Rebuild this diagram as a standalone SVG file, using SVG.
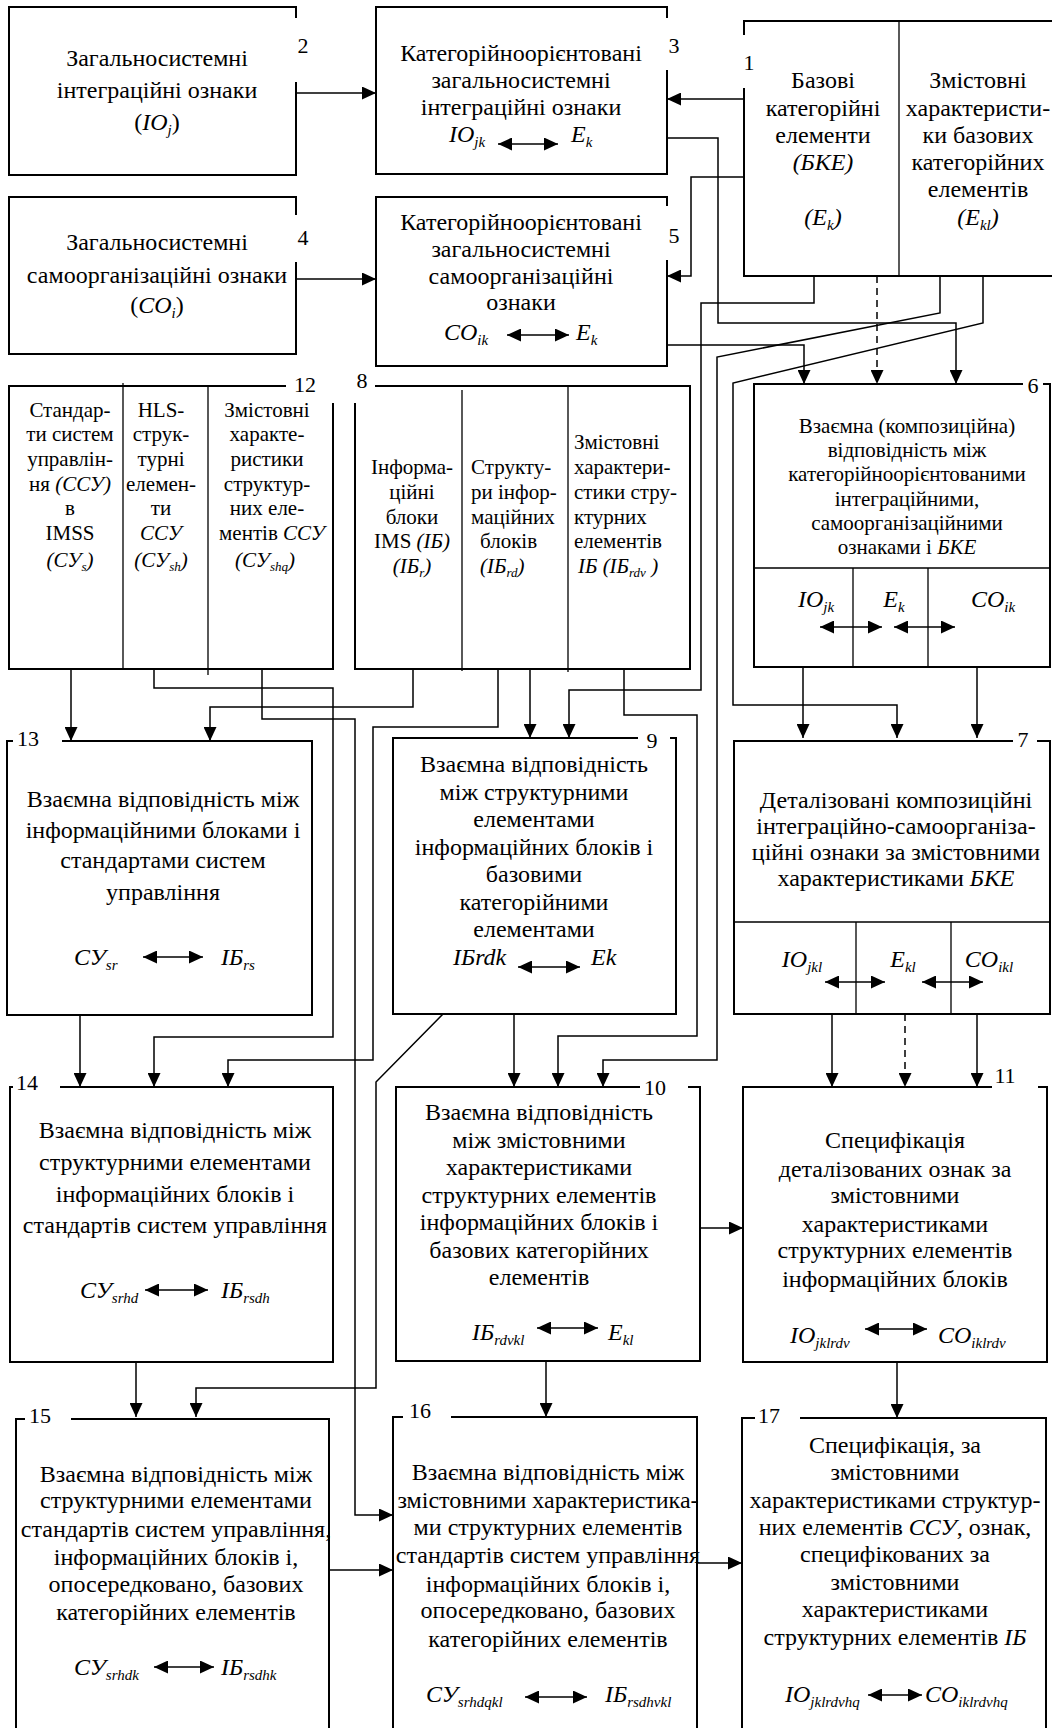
<svg xmlns="http://www.w3.org/2000/svg" width="1052" height="1728" viewBox="0 0 1052 1728">
<style>
text{font-family:"Liberation Serif","Times New Roman",serif;fill:#000}
.t{font-size:24px;text-anchor:middle}
.c{font-size:21px;text-anchor:middle}
.cs{font-size:21px}
.f{font-size:24px;font-style:italic}
.fm{font-size:24px;font-style:italic;text-anchor:middle}
.i{font-style:italic}
.sb{font-size:15px}
.csb{font-size:13px}
.lab{font-size:22px;text-anchor:middle}
.bx{fill:none;stroke:#000;stroke-width:2}
.dv{fill:none;stroke:#000;stroke-width:1.3}
.ln{fill:none;stroke:#000;stroke-width:1.5}
.ar{marker-end:url(#ah)}
.dsh{stroke-dasharray:7 5}
.bi{fill:none;stroke:#000;stroke-width:1.5;marker-start:url(#ahs);marker-end:url(#ah)}
</style>
<defs>
<marker id="ah" markerUnits="userSpaceOnUse" markerWidth="14" markerHeight="13" refX="14" refY="6.5" orient="auto"><path d="M0,0 L14,6.5 L0,13 z" fill="#000"/></marker>
<marker id="ahs" markerUnits="userSpaceOnUse" markerWidth="14" markerHeight="13" refX="14" refY="6.5" orient="auto-start-reverse"><path d="M0,0 L14,6.5 L0,13 z" fill="#000"/></marker>
</defs>

<g id="connectors">
<path class="ln ar" d="M296,93 H376"/>
<path class="ln ar" d="M296,279 H376"/>
<path class="ln ar" d="M744,99 H667"/>
<path class="ln ar" d="M744,177 H691 V276 H667"/>
<path class="ln ar" d="M667,138 H718 V323 H956 V384"/>
<path class="ln ar" d="M667,345 H804 V384"/>
<path class="ln ar dsh" d="M877,276 V384"/>
<path class="ln ar" d="M814,276 V303 H701 V690 H569 V738"/>
<path class="ln ar" d="M940,276 V313 L717,357 V1060 H603 V1087"/>
<path class="ln ar" d="M983,276 V323 L733,383 V705 H897 V738"/>
<path class="ln ar" d="M803,667 V738"/>
<path class="ln ar" d="M977,667 V738"/>
<path class="ln ar" d="M832,1014 V1087"/>
<path class="ln ar dsh" d="M905,1014 V1087"/>
<path class="ln ar" d="M977,1014 V1087"/>
<path class="ln ar" d="M71,669 V741"/>
<path class="ln ar" d="M413,669 V707 H210 V741"/>
<path class="ln ar" d="M154,669 V688 H333 V1037 H154 V1087"/>
<path class="ln ar" d="M262,669 V719 H355 V1515 H393"/>
<path class="ln ar" d="M498,669 V727 H373 V1060 H228 V1087"/>
<path class="ln ar" d="M530,669 V738"/>
<path class="ln ar" d="M624,669 V715 H697 V1036 H558 V1087"/>
<path class="ln ar" d="M80,1015 V1087"/>
<path class="ln ar" d="M514,1014 V1087"/>
<path class="ln ar" d="M443,1014 L376,1082 V1388 H196 V1417"/>
<path class="ln ar" d="M136,1362 V1417"/>
<path class="ln ar" d="M700,1228 H743"/>
<path class="ln ar" d="M546,1361 V1417"/>
<path class="ln ar" d="M897,1362 V1418"/>
<path class="ln ar" d="M329,1570 H393"/>
<path class="ln ar" d="M697,1563 H742"/>
</g>

<g id="n1">
<path class="bx" d="M744,35 V21 H1052 M744,88 V276 H1052"/>
<path class="dv" d="M899,21 V276"/>
<text class="lab" x="749" y="70">1</text>
<text class="t" x="823" y="88">Базові</text>
<text class="t" x="823" y="116">категорійні</text>
<text class="t" x="823" y="143">елементи</text>
<text class="t i" x="823" y="170">(БКЕ)</text>
<text class="t i" x="823" y="225">(E<tspan class="sb" dy="5">k</tspan><tspan dy="-5">)</tspan></text>
<text class="t" x="978" y="88">Змістовні</text>
<text class="t" x="978" y="116">характеристи-</text>
<text class="t" x="978" y="143">ки базових</text>
<text class="t" x="978" y="170">категорійних</text>
<text class="t" x="978" y="197">елементів</text>
<text class="t i" x="978" y="225">(E<tspan class="sb" dy="5">kl</tspan><tspan dy="-5">)</tspan></text>
</g>

<g id="n2">
<path class="bx" d="M296,18 V7 H9 V175 H296 V82"/>
<text class="lab" x="303" y="53">2</text>
<text class="t" x="157" y="66">Загальносистемні</text>
<text class="t" x="157" y="98">інтеграційні ознаки</text>
<text class="t" x="157" y="130">(<tspan class="i">IO<tspan class="sb" dy="5">j</tspan></tspan><tspan dy="-5">)</tspan></text>
</g>

<g id="n3">
<path class="bx" d="M667,18 V7 H376 V174 H667 V70"/>
<text class="lab" x="674" y="53">3</text>
<text class="t" x="521" y="61">Категорійноорієнтовані</text>
<text class="t" x="521" y="88">загальносистемні</text>
<text class="t" x="521" y="115">інтеграційні ознаки</text>
<text class="f" x="449" y="142">IO<tspan class="sb" dy="5">jk</tspan></text>
<path class="bi" d="M498,144 H558"/>
<text class="f" x="571" y="142">E<tspan class="sb" dy="5">k</tspan></text>
</g>

<g id="n4">
<path class="bx" d="M296,215 V197 H9 V354 H296 V262"/>
<text class="lab" x="303" y="245">4</text>
<text class="t" x="157" y="250">Загальносистемні</text>
<text class="t" x="157" y="283">самоорганізаційні ознаки</text>
<text class="t" x="157" y="313">(<tspan class="i">CO<tspan class="sb" dy="5">i</tspan></tspan><tspan dy="-5">)</tspan></text>
</g>

<g id="n5">
<path class="bx" d="M667,206 V197 H376 V366 H667 V260"/>
<text class="lab" x="674" y="243">5</text>
<text class="t" x="521" y="230">Категорійноорієнтовані</text>
<text class="t" x="521" y="257">загальносистемні</text>
<text class="t" x="521" y="284">самоорганізаційні</text>
<text class="t" x="521" y="310">ознаки</text>
<text class="f" x="444" y="340">CO<tspan class="sb" dy="5">ik</tspan></text>
<path class="bi" d="M507,335 H569"/>
<text class="f" x="576" y="340">E<tspan class="sb" dy="5">k</tspan></text>
</g>

<g id="n6">
<path class="bx" d="M1023,384 H754 V667 H1050 V384 H1043"/>
<path class="dv" d="M754,568 H1050 M853,568 V667 M928,568 V667"/>
<text class="lab" x="1033" y="393">6</text>
<text class="c" x="907" y="433">Взаємна (композиційна)</text>
<text class="c" x="907" y="457">відповідність між</text>
<text class="c" x="907" y="481">категорійноорієнтованими</text>
<text class="c" x="907" y="506">інтеграційними,</text>
<text class="c" x="907" y="530">самоорганізаційними</text>
<text class="c" x="907" y="554">ознаками і <tspan class="i">БКЕ</tspan></text>
<text class="fm" x="816" y="607">IO<tspan class="sb" dy="5">jk</tspan></text>
<text class="fm" x="894" y="607">E<tspan class="sb" dy="5">k</tspan></text>
<text class="fm" x="993" y="607">CO<tspan class="sb" dy="5">ik</tspan></text>
<path class="bi" d="M820,627 H882"/>
<path class="bi" d="M894,627 H955"/>
</g>

<g id="n7">
<path class="bx" d="M1013,741 H734 V1014 H1050 V741 H1037"/>
<path class="dv" d="M734,922 H1050 M856,922 V1014 M951,922 V1014"/>
<text class="lab" x="1023" y="747">7</text>
<text class="t" x="896" y="808">Деталізовані композиційні</text>
<text class="t" x="896" y="834">інтеграційно-самоорганіза-</text>
<text class="t" x="896" y="860">ційні ознаки  за змістовними</text>
<text class="t" x="896" y="886">характеристиками <tspan class="i">БКЕ</tspan></text>
<text class="fm" x="802" y="967">IO<tspan class="sb" dy="5">jkl</tspan></text>
<text class="fm" x="903" y="967">E<tspan class="sb" dy="5">kl</tspan></text>
<text class="fm" x="989" y="967">CO<tspan class="sb" dy="5">ikl</tspan></text>
<path class="bi" d="M825,982 H885"/>
<path class="bi" d="M922,982 H983"/>
</g>

<g id="n8">
<path class="bx" d="M375,386 H690 V669 H355 V403"/>
<path class="dv" d="M462,390 V671 M568,386 V672"/>
<text class="lab" x="362" y="388">8</text>
<text class="c" x="412" y="474">Інформа-</text>
<text class="c" x="412" y="499">ційні</text>
<text class="c" x="412" y="524">блоки</text>
<text class="c" x="412" y="548">IMS <tspan class="i">(ІБ)</tspan></text>
<text class="c i" x="412" y="573">(ІБ<tspan class="csb" dy="4">r</tspan><tspan dy="-4">)</tspan></text>
<text class="cs" x="471" y="474">Структу-</text>
<text class="cs" x="471" y="499">ри інфор-</text>
<text class="cs" x="471" y="524">маційних</text>
<text class="cs" x="480" y="548">блоків</text>
<text class="cs i" x="480" y="573">(ІБ<tspan class="csb" dy="4">rd</tspan><tspan dy="-4">)</tspan></text>
<text class="cs" x="574" y="449">Змістовні</text>
<text class="cs" x="574" y="474">характери-</text>
<text class="cs" x="574" y="499">стики стру-</text>
<text class="cs" x="574" y="524">ктурних</text>
<text class="cs" x="574" y="548">елементів</text>
<text class="cs i" x="578" y="573">ІБ (ІБ<tspan class="csb" dy="4">rdv</tspan><tspan dy="-4"> )</tspan></text>
</g>

<g id="n12">
<path class="bx" d="M286,386 H9 V669 H333 V403"/>
<path class="dv" d="M123,383 V669 M208,386 V675"/>
<text class="lab" x="305" y="392">12</text>
<text class="c" x="70" y="417">Стандар-</text>
<text class="c" x="70" y="441">ти систем</text>
<text class="c" x="70" y="466">управлін-</text>
<text class="c" x="70" y="491">ня <tspan class="i">(ССУ)</tspan></text>
<text class="c" x="70" y="515">в</text>
<text class="c" x="70" y="540">IMSS</text>
<text class="c i" x="70" y="567">(СУ<tspan class="csb" dy="4">s</tspan><tspan dy="-4">)</tspan></text>
<text class="c" x="161" y="417">HLS-</text>
<text class="c" x="161" y="441">струк-</text>
<text class="c" x="161" y="466">турні</text>
<text class="c" x="161" y="491">елемен-</text>
<text class="c" x="161" y="515">ти</text>
<text class="c i" x="161" y="540">ССУ</text>
<text class="c i" x="161" y="567">(СУ<tspan class="csb" dy="4">sh</tspan><tspan dy="-4">)</tspan></text>
<text class="c" x="267" y="417">Змістовні</text>
<text class="c" x="267" y="441">характе-</text>
<text class="c" x="267" y="466">ристики</text>
<text class="c" x="267" y="491">структур-</text>
<text class="c" x="267" y="515">них еле-</text>
<text class="c" x="272" y="540">ментів <tspan class="i">ССУ</tspan></text>
<text class="c i" x="265" y="567">(СУ<tspan class="csb" dy="4">shq</tspan><tspan dy="-4">)</tspan></text>
</g>

<g id="n13">
<path class="bx" d="M13,741 H7 V1015 H312 V741 H62"/>
<text class="lab" x="28" y="746">13</text>
<text class="t" x="163" y="807">Взаємна відповідність між</text>
<text class="t" x="163" y="838">інформаційними блоками і</text>
<text class="t" x="163" y="868">стандартами систем</text>
<text class="t" x="163" y="900">управління</text>
<text class="f" x="74" y="965">СУ<tspan class="sb" dy="5">sr</tspan></text>
<path class="bi" d="M143,957 H203"/>
<text class="f" x="221" y="965">ІБ<tspan class="sb" dy="5">rs</tspan></text>
</g>

<g id="n9">
<path class="bx" d="M638,738 H393 V1014 H676 V738 H670"/>
<text class="lab" x="652" y="748">9</text>
<text class="t" x="534" y="772">Взаємна відповідність</text>
<text class="t" x="534" y="800">між структурними</text>
<text class="t" x="534" y="827">елементами</text>
<text class="t" x="534" y="855">інформаційних блоків і</text>
<text class="t" x="534" y="882">базовими</text>
<text class="t" x="534" y="910">категорійними</text>
<text class="t" x="534" y="937">елементами</text>
<text class="f" x="453" y="965">ІБrdk</text>
<path class="bi" d="M518,967 H580"/>
<text class="f" x="591" y="965">Ek</text>
</g>

<g id="n14">
<path class="bx" d="M13,1087 H10 V1362 H333 V1087 H60"/>
<text class="lab" x="27" y="1090">14</text>
<text class="t" x="175" y="1138">Взаємна відповідність між</text>
<text class="t" x="175" y="1170">структурними елементами</text>
<text class="t" x="175" y="1202">інформаційних блоків і</text>
<text class="t" x="175" y="1233">стандартів систем управління</text>
<text class="f" x="80" y="1298">СУ<tspan class="sb" dy="5">srhd</tspan></text>
<path class="bi" d="M145,1290 H208"/>
<text class="f" x="221" y="1298">ІБ<tspan class="sb" dy="5">rsdh</tspan></text>
</g>

<g id="n10">
<path class="bx" d="M640,1087 H396 V1361 H700 V1087 H688"/>
<text class="lab" x="655" y="1095">10</text>
<text class="t" x="539" y="1120">Взаємна відповідність</text>
<text class="t" x="539" y="1148">між змістовними</text>
<text class="t" x="539" y="1175">характеристиками</text>
<text class="t" x="539" y="1203">структурних елементів</text>
<text class="t" x="539" y="1230">інформаційних блоків і</text>
<text class="t" x="539" y="1258">базових категорійних</text>
<text class="t" x="539" y="1285">елементів</text>
<text class="f" x="472" y="1340">ІБ<tspan class="sb" dy="5">rdvkl</tspan></text>
<path class="bi" d="M537,1328 H598"/>
<text class="f" x="608" y="1340">E<tspan class="sb" dy="5">kl</tspan></text>
</g>

<g id="n11">
<path class="bx" d="M992,1087 H743 V1362 H1047 V1087 H1038"/>
<text class="lab" x="1005" y="1083">11</text>
<text class="t" x="895" y="1148">Специфікація</text>
<text class="t" x="895" y="1177">деталізованих ознак за</text>
<text class="t" x="895" y="1203">змістовними</text>
<text class="t" x="895" y="1232">характеристиками</text>
<text class="t" x="895" y="1258">структурних елементів</text>
<text class="t" x="895" y="1287">інформаційних блоків</text>
<text class="f" x="790" y="1343">IO<tspan class="sb" dy="5">jklrdv</tspan></text>
<path class="bi" d="M865,1329 H927"/>
<text class="f" x="938" y="1343">CO<tspan class="sb" dy="5">iklrdv</tspan></text>
</g>

<g id="n15">
<path class="bx" d="M25,1419 H16 V1740 M329,1740 V1419 H71"/>
<text class="lab" x="40" y="1423">15</text>
<text class="t" x="176" y="1482">Взаємна відповідність між</text>
<text class="t" x="176" y="1508">структурними елементами</text>
<text class="t" x="176" y="1537">стандартів систем управління,</text>
<text class="t" x="176" y="1565">інформаційних блоків і,</text>
<text class="t" x="176" y="1592">опосередковано, базових</text>
<text class="t" x="176" y="1620">категорійних елементів</text>
<text class="f" x="74" y="1675">СУ<tspan class="sb" dy="5">srhdk</tspan></text>
<path class="bi" d="M154,1667 H214"/>
<text class="f" x="221" y="1675">ІБ<tspan class="sb" dy="5">rsdhk</tspan></text>
</g>

<g id="n16">
<path class="bx" d="M403,1417 H393 V1740 M697,1740 V1417 H451"/>
<text class="lab" x="420" y="1418">16</text>
<text class="t" x="548" y="1480">Взаємна відповідність між</text>
<text class="t" x="548" y="1508">змістовними характеристика-</text>
<text class="t" x="548" y="1535">ми структурних елементів</text>
<text class="t" x="548" y="1563">стандартів систем управління</text>
<text class="t" x="548" y="1592">інформаційних блоків і,</text>
<text class="t" x="548" y="1618">опосередковано, базових</text>
<text class="t" x="548" y="1647">категорійних елементів</text>
<text class="f" x="426" y="1702">СУ<tspan class="sb" dy="5">srhdqkl</tspan></text>
<path class="bi" d="M525,1697 H587"/>
<text class="f" x="605" y="1702">ІБ<tspan class="sb" dy="5">rsdhvkl</tspan></text>
</g>

<g id="n17">
<path class="bx" d="M755,1418 H742 V1740 M1046,1740 V1418 H800"/>
<text class="lab" x="769" y="1423">17</text>
<text class="t" x="895" y="1453">Специфікація, за</text>
<text class="t" x="895" y="1480">змістовними</text>
<text class="t" x="895" y="1508">характеристиками структур-</text>
<text class="t" x="895" y="1535">них елементів <tspan class="i">ССУ</tspan>, ознак,</text>
<text class="t" x="895" y="1562">специфікованих за</text>
<text class="t" x="895" y="1590">змістовними</text>
<text class="t" x="895" y="1617">характеристиками</text>
<text class="t" x="895" y="1645">структурних елементів <tspan class="i">ІБ</tspan></text>
<text class="f" x="785" y="1702">IO<tspan class="sb" dy="5">jklrdvhq</tspan></text>
<path class="bi" d="M868,1695 H922"/>
<text class="f" x="925" y="1702">CO<tspan class="sb" dy="5">iklrdvhq</tspan></text>
</g>
</svg>
